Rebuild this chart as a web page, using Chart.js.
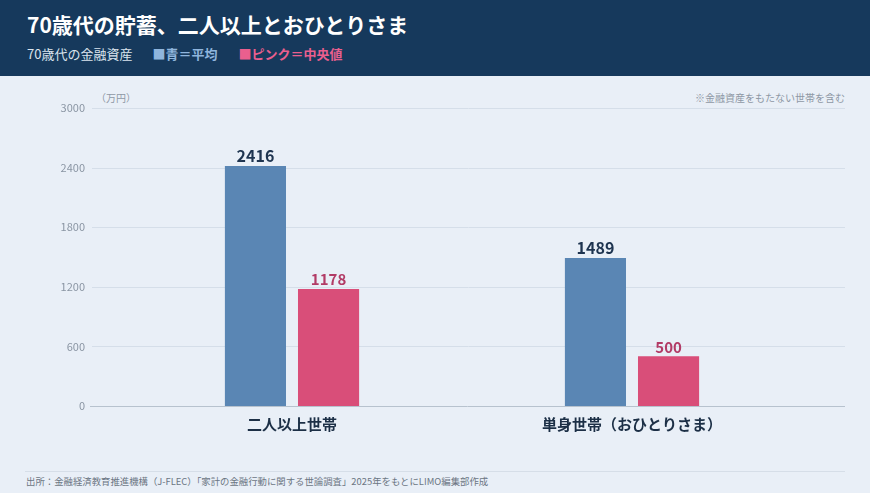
<!DOCTYPE html>
<html lang="ja">
<head>
<meta charset="utf-8">
<script src="https://cdn.jsdelivr.net/npm/chart.js@4.4.1/dist/chart.umd.min.js"></script>
<style>
  html, body { margin: 0; padding: 0; }
  body { width: 870px; height: 493px; background: #e9eff7; position: relative; overflow: hidden;
         font-family: "Noto Sans CJK JP", "Noto Sans", sans-serif; }
  #head { position: absolute; left: 0; top: 0; width: 870px; height: 76px; background: #16395c; }
  #title { position: absolute; left: 27px; top: 9px; font-size: 21px; font-weight: 700; color: #fff; }
  #sub { position: absolute; left: 27px; top: 44px; font-size: 13px; color: #dbe4ee; white-space: pre; }
  #sub .b { color: #8fb5dd; font-weight: 700; margin-left: 20px; }
  #sub .p { color: #ea5f8e; font-weight: 700; margin-left: 21px; }
  .note { position: absolute; top: 90px; font-size: 10px; color: #8e98a5; }
  #foot { position: absolute; left: 26px; top: 474px; font-size: 9.4px; color: #6c7683; white-space: nowrap; }
  #rule { position: absolute; left: 25px; top: 471px; width: 820px; height: 1px; background: #d6dee8; }
  #c { position: absolute; left: 0; top: 0; }
</style>
</head>
<body>
<div id="head">
  <div id="title">70歳代の貯蓄、二人以上とおひとりさま</div>
  <div id="sub">70歳代の金融資産<span class="b">■青＝平均</span><span class="p">■ピンク＝中央値</span></div>
</div>
<div class="note" style="left:96px;">（万円）</div>
<div class="note" style="right:25px;">※金融資産をもたない世帯を含む</div>
<div id="rule"></div>
<div id="foot">出所：金融経済教育推進機構（J-FLEC）「家計の金融行動に関する世論調査」2025年をもとにLIMO編集部作成</div>
<canvas id="c" width="870" height="493"></canvas>
<script>
// values in 万円
var categories = ['二人以上世帯', '単身世帯（おひとりさま）'];
var averageValues = [2416, 1489];
var medianValues = [1178, 500];
var yTicks = [0, 600, 1200, 1800, 2400, 3000];

var FONT = '"Noto Sans CJK JP", "Noto Sans", sans-serif';

// gridlines run wider than the plot area, so draw them ourselves from the y scale
var gridPlugin = {
  id: 'wideGrid',
  beforeDatasetsDraw: function(chart) {
    var ctx = chart.ctx;
    var y = chart.scales.y;
    ctx.save();
    yTicks.forEach(function(v) {
      var py = Math.round(y.getPixelForValue(v)) + 0.5;
      ctx.strokeStyle = v === 0 ? '#b7c2ce' : '#d5dee9';
      ctx.lineWidth = 1;
      ctx.beginPath();
      ctx.moveTo(v === 0 ? 90 : 92, py);
      ctx.lineTo(845, py);
      ctx.stroke();
    });
    ctx.restore();
  }
};

// numbers above each bar
var valuePlugin = {
  id: 'barValues',
  afterDatasetsDraw: function(chart) {
    var ctx = chart.ctx;
    ctx.save();
    ctx.textAlign = 'center';
    ctx.textBaseline = 'bottom';
    chart.data.datasets.forEach(function(ds, i) {
      var meta = chart.getDatasetMeta(i);
      ctx.fillStyle = ds.labelColor;
      ctx.font = '700 ' + ds.labelSize + 'px ' + FONT;
      meta.data.forEach(function(bar, j) {
        ctx.fillText(String(ds.data[j]), bar.x, bar.y - 2);
      });
    });
    ctx.restore();
  }
};

new Chart(document.getElementById('c'), {
  type: 'bar',
  data: {
    labels: categories,
    datasets: [
      { label: '平均', data: averageValues, backgroundColor: '#5a86b4',
        labelColor: '#1e3450', labelSize: 16 },
      { label: '中央値', data: medianValues, backgroundColor: '#d94e79',
        labelColor: '#b23b66', labelSize: 15 }
    ]
  },
  options: {
    responsive: false,
    animation: false,
    devicePixelRatio: 1,
    categoryPercentage: 0.43,
    barPercentage: 0.836,
    layout: { padding: { top: 108, right: 68, bottom: 0, left: 0 } },
    plugins: { legend: { display: false }, tooltip: { enabled: false } },
    scales: {
      y: {
        min: 0, max: 3000,
        afterFit: function(s) { s.width = 122; },
        afterBuildTicks: function(s) { s.ticks = yTicks.map(function(v) { return { value: v }; }); },
        grid: { display: false, drawTicks: false },
        border: { display: false },
        ticks: {
          padding: 37, color: '#8a95a3', font: { family: FONT, size: 11 },
          callback: function(v) { return String(v); }
        }
      },
      x: {
        afterFit: function(s) { s.height = 87; },
        grid: { display: false, drawTicks: false },
        border: { display: false },
        ticks: { padding: 9, color: '#1c2f46', font: { family: FONT, size: 15, weight: '700' } }
      }
    }
  },
  plugins: [gridPlugin, valuePlugin]
});
</script>
</body>
</html>
